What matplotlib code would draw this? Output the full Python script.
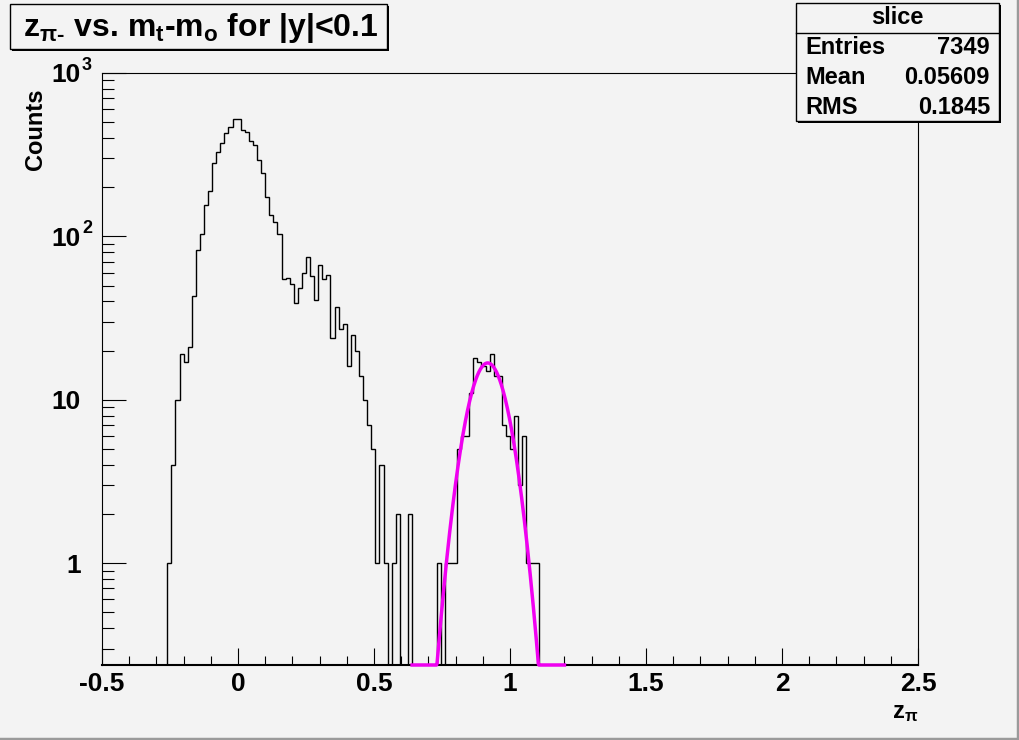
import numpy as np
import matplotlib
matplotlib.use('Agg')
import matplotlib.pyplot as plt
from matplotlib.ticker import MultipleLocator, FixedLocator, FuncFormatter, LogLocator, NullFormatter
from matplotlib.patches import Rectangle
from matplotlib.lines import Line2D
from matplotlib.transforms import offset_copy

# --- data ---
bin_start = -0.26
bin_width = 0.015
counts = [1, 4, 10, 19, 17, 21, 43, 82, 103, 155,
          190, 283, 330, 372, 432, 466, 521, 525, 449, 433,
          385, 364, 295, 245, 175, 135, 122, 104, 55, 56,
          51, 39, 48, 60, 75, 57, 41, 67, 55, 58,
          24, 37, 27, 29, 16, 25, 20, 14, 10, 7,
          5, 1, 4, 1, 0, 1, 2, 0, 0, 2,
          0, 0, 0, 0, 0, 0, 1, 0, 1, 1,
          1, 5, 6, 6, 11, 18, 17, 16, 15, 19,
          14, 14, 7, 6, 5, 8, 3, 6, 1, 1, 1]

# gaussian fit drawn in magenta
fit_amp = 16.8
fit_mean = 0.918
fit_sigma = 0.064
fit_lo, fit_hi = 0.64, 1.2

stat_names = ['Entries', 'Mean', 'RMS']
stat_values = ['7349', '0.05609', '0.1845']

x_ticks = [-0.5, 0, 0.5, 1, 1.5, 2, 2.5]
y_ticks = [1, 10, 100, 1000]
y_tick_base = ['1', '10', '10', '10']
y_tick_exp = ['', '', '2', '3']
ymin, ymax = 0.238, 1000

bg = '#f3f3f3'

plt.rcParams['font.family'] = ['Liberation Sans', 'DejaVu Sans']
plt.rcParams['font.weight'] = 'bold'
plt.rcParams['axes.unicode_minus'] = False
plt.rcParams['mathtext.fontset'] = 'custom'
plt.rcParams['mathtext.rm'] = 'Liberation Sans:bold'
plt.rcParams['mathtext.it'] = 'Liberation Sans:bold'
plt.rcParams['mathtext.bf'] = 'Liberation Sans:bold'

W, H = 1020, 740
fig = plt.figure(figsize=(W / 100, H / 100), dpi=100, facecolor=bg)
ax = fig.add_axes([102 / W, 1 - 665 / H, 816 / W, 592 / H])
ax.set_facecolor(bg)

# histogram
c = np.array(counts, dtype=float)
edges = bin_start + bin_width * np.arange(len(c) + 1)
vals = np.where(c > 0, c, 1e-3)
ax.stairs(vals, edges, baseline=1e-3, color='black', lw=1.0, zorder=2)

# fit curve, clipped to the frame bottom like ROOT does
xf = np.linspace(fit_lo, fit_hi, 300)
yf = fit_amp * np.exp(-0.5 * ((xf - fit_mean) / fit_sigma) ** 2)
yf = np.maximum(yf, ymin)
ax.plot(xf, yf, color='#f000f0', lw=2.5, clip_on=False, zorder=4)

ax.set_xlim(-0.5, 2.5)
ax.set_yscale('log')
ax.set_ylim(ymin, ymax)

ax.xaxis.set_major_locator(FixedLocator(x_ticks))
ax.xaxis.set_minor_locator(MultipleLocator(0.1))
ax.xaxis.set_major_formatter(FuncFormatter(lambda v, p: '%g' % v))
ax.yaxis.set_major_locator(FixedLocator(y_ticks))
ax.yaxis.set_major_formatter(NullFormatter())
ax.yaxis.set_minor_locator(LogLocator(base=10, subs=np.arange(2, 10)))
ax.yaxis.set_minor_formatter(NullFormatter())

ax.tick_params(axis='x', which='major', direction='in', length=12.5, width=0.8,
               labelsize=19, pad=5, top=False)
ax.tick_params(axis='x', which='minor', direction='in', length=6.3, width=0.8, top=False)
ax.tick_params(axis='y', which='major', direction='in', length=17.5, width=0.8, right=False)
ax.tick_params(axis='y', which='minor', direction='in', length=8.8, width=0.8, right=False)
for lab in ax.get_xticklabels():
    lab.set_fontweight('bold')

# y labels in ROOT style: 1, 10, 10^2, 10^3 with the exponent hanging right
for yv, base, ex in zip(y_ticks, y_tick_base, y_tick_exp):
    tb = offset_copy(ax.get_yaxis_transform(), fig=fig, x=-21, y=0, units='dots')
    ax.text(0, yv, base, transform=tb, ha='right', va='center_baseline',
            fontsize=19, clip_on=False)
    if ex:
        te = offset_copy(ax.get_yaxis_transform(), fig=fig, x=-20, y=3, units='dots')
        ax.text(0, yv, ex, transform=te, ha='left', va='baseline',
                fontsize=13, clip_on=False)

for s in ['top', 'right', 'left']:
    ax.spines[s].set_linewidth(0.8)
ax.spines['bottom'].set_linewidth(1.5)

# axis titles
fig.text(918 / W, 1 - 718 / H, r'z$_{\pi}$', ha='right', va='baseline', fontsize=17)
fig.text(36 / W, 1 - 88 / H, 'Counts', rotation=90, ha='center', va='top', fontsize=17)

# boxes with a small shadow
def box(x0, y0, x1, y1):
    sh = Rectangle(((x0 + 2) / W, 1 - (y1 + 2) / H), (x1 - x0) / W, (y1 - y0) / H,
                   transform=fig.transFigure, fc='black', ec='black', lw=0, zorder=5)
    fr = Rectangle((x0 / W, 1 - y1 / H), (x1 - x0) / W, (y1 - y0) / H,
                   transform=fig.transFigure, fc=bg, ec='black', lw=1.0, zorder=6)
    fig.add_artist(sh)
    fig.add_artist(fr)

box(10, 4, 387, 49)
fig.text(201 / W, 1 - 28 / H, 'z$_{\\pi\u2010}$ vs. m$_{t}$-m$_{o}$ for |y|<0.1',
         ha='center', va='center', fontsize=23, zorder=7)

# stats box
box(796, 3, 999, 121)
fig.add_artist(Line2D([796 / W, 999 / W], [1 - 33 / H, 1 - 33 / H],
                      transform=fig.transFigure, color='black', lw=1.0, zorder=7))
fig.text(897 / W, 1 - 18 / H, 'slice', ha='center', va='center', fontsize=17, zorder=7)
for i, (nm, vl) in enumerate(zip(stat_names, stat_values)):
    yy = 1 - (48 + 30 * i) / H
    fig.text(805 / W, yy, nm, ha='left', va='center', fontsize=17, zorder=7)
    fig.text(990 / W, yy, vl, ha='right', va='center', fontsize=17, zorder=7)

# canvas bevel
fig.add_artist(Line2D([0, 1], [0.002, 0.002], transform=fig.transFigure, color='#9a9a9a', lw=2.5))
fig.add_artist(Line2D([0.998, 0.998], [0, 1], transform=fig.transFigure, color='#9a9a9a', lw=2.5))

fig.savefig('out.png', dpi=100, facecolor=bg)
